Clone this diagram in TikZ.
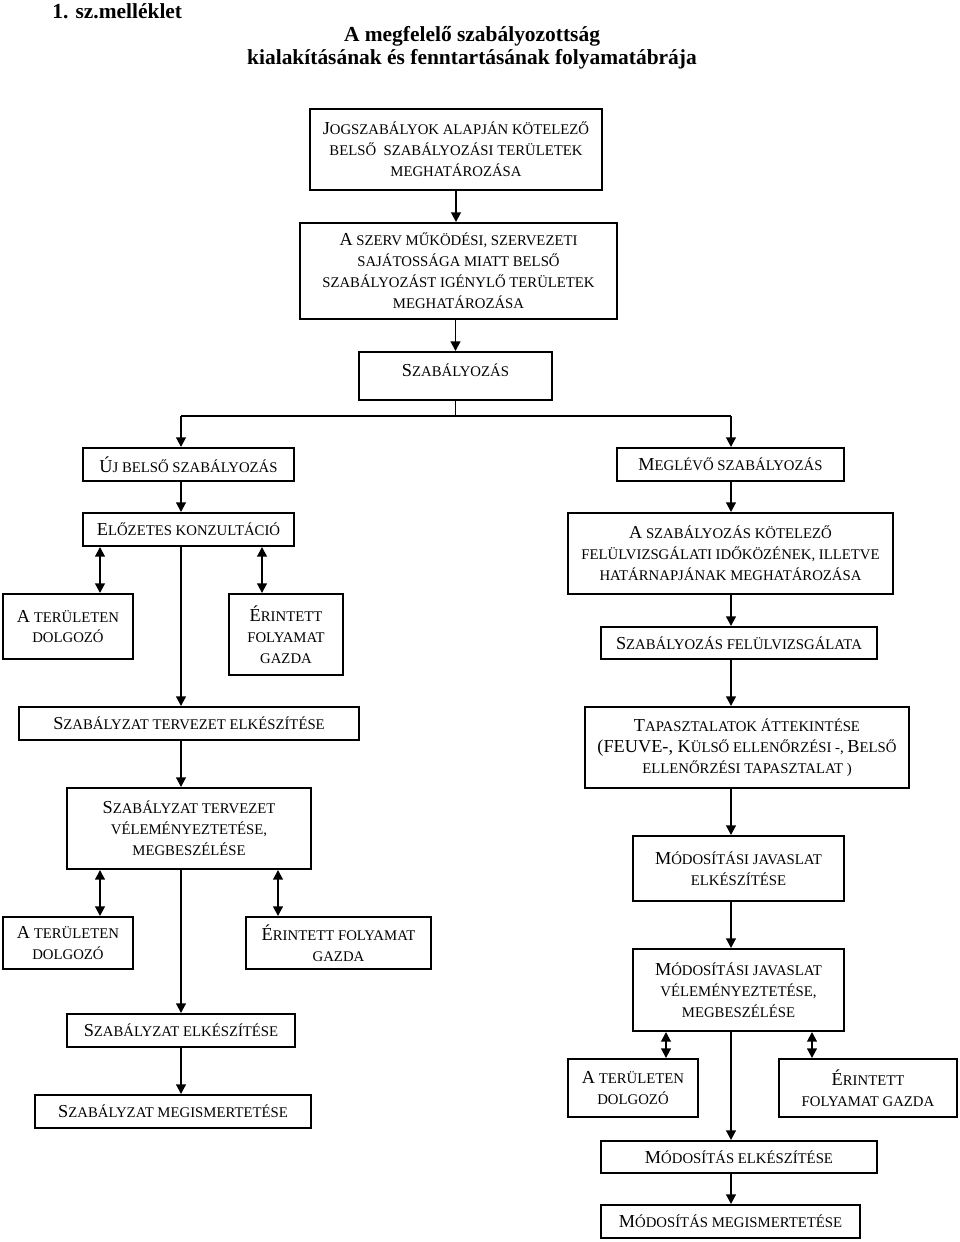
\documentclass[tikz,border=0pt]{standalone}
\usepackage{fontspec}
\setmainfont{Liberation Serif}
\usetikzlibrary{arrows.meta}
\newcommand{\nb}[1]{{\fontsize{10.4}{11.9}\selectfont #1}}
\tikzset{
	>={Triangle[length=5.5pt,width=5.5pt]},
	doboz/.style={
		rectangle,
		draw=black, line width=1.1pt,
		align=center,
		inner sep=2pt,
		font=\fontsize{8.4}{11.9}\selectfont},
	meret/.style 2 args={minimum width=#1*0.02cm, minimum height=#2*0.02cm},
	vonal/.style={draw, line width=1.1pt},
	cimbetu/.style={inner sep=0pt, align=center, font=\bfseries\fontsize{12.2}{13.1}\selectfont},
}

\begin{document}
\begin{tikzpicture}[x=0.02cm, y=-0.02cm]
	\useasboundingbox (0,0) rectangle (960,1242);
	% cim
	\node[cimbetu, anchor=west] (szam) at (52,11) {1. sz.melléklet};
	\node[cimbetu] (cim) at (472,48) {A megfelelő szabályozottság\\kialakításának és fenntartásának folyamatábrája};
	% felso resz
	\node[doboz, meret={292}{81}] (a) at (456,149.5) {\nb{J}OGSZABÁLYOK ALAPJÁN KÖTELEZŐ\\BELSŐ\ \ SZABÁLYOZÁSI TERÜLETEK\\MEGHATÁROZÁSA};
	\node[doboz, meret={317}{96}] (b) at (458.5,271) {\nb{A} SZERV MŰKÖDÉSI, SZERVEZETI\\SAJÁTOSSÁGA MIATT BELSŐ\\SZABÁLYOZÁST IGÉNYLŐ TERÜLETEK\\MEGHATÁROZÁSA};
	\node[doboz, meret={193}{48}, text depth=0.24cm] (c) at (455.5,376) {\nb{S}ZABÁLYOZÁS};
	% bal oldal
	\node[doboz, meret={211}{33}] (d) at (188.5,464.5) {\nb{Ú}J BELSŐ SZABÁLYOZÁS};
	\node[doboz, meret={211}{33}] (f) at (188.5,529.5) {\nb{E}LŐZETES KONZULTÁCIÓ};
	\node[doboz, meret={130}{65}] (h) at (68,626.5) {\nb{A} TERÜLETEN\\DOLGOZÓ};
	\node[doboz, meret={114}{81}] (i) at (286,634.5) {\nb{É}RINTETT\\FOLYAMAT\\GAZDA};
	\node[doboz, meret={340}{33}] (j) at (189,723.5) {\nb{S}ZABÁLYZAT TERVEZET ELKÉSZÍTÉSE};
	\node[doboz, meret={244}{81}] (m) at (189,828.5) {\nb{S}ZABÁLYZAT TERVEZET\\VÉLEMÉNYEZTETÉSE,\\MEGBESZÉLÉSE};
	\node[doboz, meret={130}{52}] (o) at (68,943) {\nb{A} TERÜLETEN\\DOLGOZÓ};
	\node[doboz, meret={185}{52}] (p) at (338.5,943) {\nb{É}RINTETT FOLYAMAT\\GAZDA};
	\node[doboz, meret={228}{33}] (q) at (181,1030.5) {\nb{S}ZABÁLYZAT ELKÉSZÍTÉSE};
	\node[doboz, meret={276}{33}] (r) at (173,1111.5) {\nb{S}ZABÁLYZAT MEGISMERTETÉSE};
	% jobb oldal
	\node[doboz, meret={227}{33}] (e) at (730.5,464.5) {\nb{M}EGLÉVŐ SZABÁLYOZÁS};
	\node[doboz, meret={325}{81}] (g) at (730.5,553.5) {\nb{A} SZABÁLYOZÁS KÖTELEZŐ\\FELÜLVIZSGÁLATI IDŐKÖZÉNEK, ILLETVE\\HATÁRNAPJÁNAK MEGHATÁROZÁSA};
	\node[doboz, meret={276}{32}] (k) at (739,643) {\nb{S}ZABÁLYOZÁS FELÜLVIZSGÁLATA};
	\node[doboz, meret={324}{81}] (l) at (747,747.5) {\nb{T}APASZTALATOK ÁTTEKINTÉSE\\\nb{(FEUVE-, K}ÜLSŐ ELLENŐRZÉSI -, \nb{B}ELSŐ\\ELLENŐRZÉSI TAPASZTALAT )};
	\node[doboz, meret={211}{65}] (n) at (738.5,868.5) {\nb{M}ÓDOSÍTÁSI JAVASLAT\\ELKÉSZÍTÉSE};
	\node[doboz, meret={211}{82}] (s) at (738.5,990) {\nb{M}ÓDOSÍTÁSI JAVASLAT\\VÉLEMÉNYEZTETÉSE,\\MEGBESZÉLÉSE};
	\node[doboz, meret={130}{58}] (t) at (633,1088) {\nb{A} TERÜLETEN\\DOLGOZÓ};
	\node[doboz, meret={178}{58}] (u) at (868,1088) {\nb{É}RINTETT\\FOLYAMAT GAZDA};
	\node[doboz, meret={276}{32}] (v) at (739,1157) {\nb{M}ÓDOSÍTÁS ELKÉSZÍTÉSE};
	\node[doboz, meret={259}{33}] (w) at (730.5,1221.5) {\nb{M}ÓDOSÍTÁS MEGISMERTETÉSE};
	% elagazas
	\coordinate (eloszt) at (455.5,416);
	\coordinate (bal) at (181,416);
	\coordinate (jobb) at (731,416);
	\coordinate (x1) at (100,0);
	\coordinate (x2) at (262,0);
	\coordinate (x3) at (278,0);
	\coordinate (x4) at (666,0);
	\coordinate (x5) at (812,0);
	\draw[vonal, ->] (a.south) -- (a.south |- b.north);
	\draw[vonal, ->] (c.north |- b.south) -- (c.north);
	\draw[vonal] (c.south) -- (eloszt);
	\draw[vonal] (bal) -- (jobb);
	\draw[vonal, ->] (bal) -- (bal |- d.north);
	\draw[vonal, ->] (jobb) -- (jobb |- e.north);
	% bal ag
	\draw[vonal, ->] (bal |- d.south) -- (bal |- f.north);
	\draw[vonal, ->] (bal |- f.south) -- (bal |- j.north);
	\draw[vonal, ->] (bal |- j.south) -- (bal |- m.north);
	\draw[vonal, ->] (bal |- m.south) -- (bal |- q.north);
	\draw[vonal, ->] (bal |- q.south) -- (bal |- r.north);
	\draw[vonal, <->] (x1 |- f.south) -- (x1 |- h.north);
	\draw[vonal, <->] (x2 |- f.south) -- (x2 |- i.north);
	\draw[vonal, <->] (x1 |- m.south) -- (x1 |- o.north);
	\draw[vonal, <->] (x3 |- m.south) -- (x3 |- p.north);
	% jobb ag
	\draw[vonal, ->] (jobb |- e.south) -- (jobb |- g.north);
	\draw[vonal, ->] (jobb |- g.south) -- (jobb |- k.north);
	\draw[vonal, ->] (jobb |- k.south) -- (jobb |- l.north);
	\draw[vonal, ->] (jobb |- l.south) -- (jobb |- n.north);
	\draw[vonal, ->] (jobb |- n.south) -- (jobb |- s.north);
	\draw[vonal, ->] (jobb |- s.south) -- (jobb |- v.north);
	\draw[vonal, ->] (jobb |- v.south) -- (jobb |- w.north);
	\draw[vonal, <->] (x4 |- s.south) -- (x4 |- t.north);
	\draw[vonal, <->] (x5 |- s.south) -- (x5 |- u.north);
\end{tikzpicture}
\end{document}
